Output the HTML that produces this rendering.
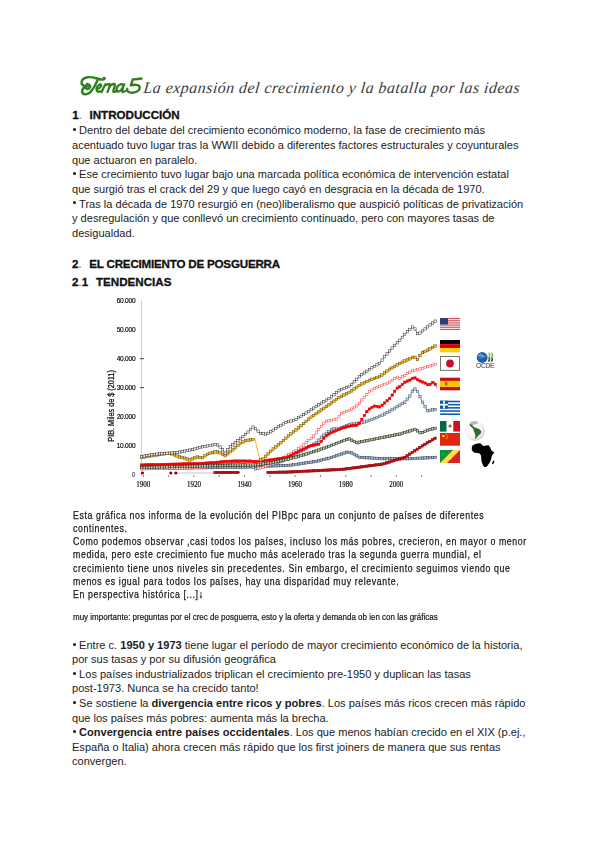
<!DOCTYPE html>
<html><head><meta charset="utf-8"><title>Tema 5</title><style>
*{margin:0;padding:0;box-sizing:border-box}
html,body{width:600px;height:848px;background:#fff;overflow:hidden}
body{position:relative;font-family:"Liberation Sans",sans-serif;color:#1c1c1c}
.l{position:absolute;white-space:pre;font-size:11.05px;line-height:14px;height:14px}
.p{position:absolute;white-space:pre;font-size:10.3px;letter-spacing:0.7px;line-height:13px;height:13px;color:#1a1a1a;-webkit-text-stroke:0.25px #1a1a1a;transform-origin:0 0;transform:scaleX(0.852)}
.h{position:absolute;white-space:pre;font-weight:bold;font-size:11.6px;line-height:14px;height:14px;color:#111;-webkit-text-stroke:0.3px #111}
b{font-weight:bold}
.bu{display:inline-block;width:7.1px;height:1px;position:relative}
.bu::before{content:"";position:absolute;left:0.6px;top:-5.1px;width:3px;height:3px;border-radius:50%;background:#111}
</style></head>
<body>
<svg style="position:absolute;left:0;top:0" width="600" height="120" viewBox="0 0 600 120"><g fill="none" stroke="#317f1f" stroke-width="2.4" stroke-linecap="round" stroke-linejoin="round"><path d="M84.5,86 C80,84.5 80.5,78.5 87.5,77.2 C93.5,76.3 99,80 103.2,79.6 C105,79.4 105.2,77.6 103.8,77.9"/><path d="M97.5,80.3 C95.3,85 93.3,89.8 89.5,92.8 C86.3,95.2 82.2,94.6 82.1,91.4 C82,88 86.2,85.6 90.2,86.6"/><path d="M87.3,83.8 C85.2,85.8 85.3,89.2 87.7,89.1 C90,89 90.8,86.2 89.2,84.6"/><g transform="translate(0,92) skewX(-12) translate(0,-92)"><path d="M96.3,89.2 C98.4,88.6 100.3,87.1 99.7,85.4 C99.1,83.8 96.6,84.4 95.9,87 C95.2,90 97.2,92.5 100.2,91.4"/><path d="M101.6,92 C102.4,89 103,86.4 103.6,84.4 M103.3,86.2 C104.2,84.8 105.4,84 107,84 C108.8,84 108.6,86.8 107.6,92 M108,88.2 C108.8,85.4 110.2,84 112,84 C113.9,84 113.6,86.9 113.1,89.4 C112.7,91.4 113.6,92.4 115.6,91.4"/><path d="M122.2,85.2 C120.2,83.4 117.1,84 116.1,87 C115.1,90 117.1,92.4 119.6,91 C121,90 122,87.2 122.6,84.4 C122.1,87.2 121.2,90.5 122.6,92 C123.6,92.4 124.6,91.6 125.2,91"/></g><path d="M132.6,79.4 C135.3,79.2 138.3,79 141.4,78.5 M132.9,79.6 C132.1,81.6 131.3,83.6 130.8,85.4 C134.2,84.2 139.6,84.5 139.7,87.6 C139.8,91.1 134,93.6 129.6,92.3 C127.6,91.7 126.6,90.1 127.3,88.8"/></g></svg>
<div style="position:absolute;left:143px;top:76px;white-space:pre;font-family:'Liberation Serif',serif;font-style:italic;font-size:16px;letter-spacing:0.45px;line-height:24px;color:#3c3c3c;transform:skewX(-6deg);transform-origin:0 17px">La expansión del crecimiento y la batalla por las ideas</div>
<div class="h" style="left:72.3px;top:107.68px;">1<span style='color:#aaa;-webkit-text-stroke:0'>.</span></div>
<div class="h" style="left:89.5px;top:107.68px;">INTRODUCCIÓN</div>
<div class="l" style="left:72px;top:123.17px;"><span class="bu"></span>Dentro del debate del crecimiento económico moderno, la fase de crecimiento más</div>
<div class="l" style="left:72px;top:137.85px;">acentuado tuvo lugar tras la WWII debido a diferentes factores estructurales y coyunturales</div>
<div class="l" style="left:72px;top:152.53px;">que actuaron en paralelo.</div>
<div class="l" style="left:72px;top:167.21px;"><span class="bu"></span>Ese crecimiento tuvo lugar bajo una marcada política económica de intervención estatal</div>
<div class="l" style="left:72px;top:181.89px;">que surgió tras el crack del 29 y que luego cayó en desgracia en la década de 1970.</div>
<div class="l" style="left:72px;top:196.57px;"><span class="bu"></span>Tras la década de 1970 resurgió en (neo)liberalismo que auspició políticas de privatización</div>
<div class="l" style="left:72px;top:211.25px;">y desregulación y que conllevó un crecimiento continuado, pero con mayores tasas de</div>
<div class="l" style="left:72px;top:225.93px;">desigualdad.</div>
<div class="h" style="left:72px;top:256.78px;">2<span style='color:#aaa;-webkit-text-stroke:0'>.</span></div>
<div class="h" style="left:89.3px;top:256.78px;letter-spacing:-0.2px">EL CRECIMIENTO DE POSGUERRA</div>
<div class="h" style="left:72px;top:274.98px;">2<span style='color:#aaa;-webkit-text-stroke:0'>.</span>1</div>
<div class="h" style="left:96px;top:274.98px;">TENDENCIAS</div>
<div class="p" style="left:73px;top:508.82px;">Esta gráfica nos informa de la evolución del PIBpc para un conjunto de países de diferentes</div>
<div class="p" style="left:73px;top:522.02px;">continentes.</div>
<div class="p" style="left:73px;top:535.22px;">Como podemos observar ,casi todos los países, incluso los más pobres, crecieron, en mayor o menor</div>
<div class="p" style="left:73px;top:548.42px;">medida, pero este crecimiento fue mucho más acelerado tras la segunda guerra mundial, el</div>
<div class="p" style="left:73px;top:561.62px;">crecimiento tiene unos niveles sin precedentes. Sin embargo, el crecimiento seguimos viendo que</div>
<div class="p" style="left:73px;top:574.82px;">menos es igual para todos los países, hay una disparidad muy relevante.</div>
<div class="p" style="left:73px;top:588.02px;">En perspectiva histórica [...]↓</div>
<div style="position:absolute;left:73px;top:611.82px;white-space:pre;font-size:8.6px;line-height:10px;color:#111;-webkit-text-stroke:0.2px #222;transform-origin:0 0;transform:scaleX(0.931)">muy importante: preguntas por el crec de posguerra, esto y la oferta y demanda ob ien con las gráficas</div>
<div class="l" style="left:72px;top:638.07px;"><span class="bu"></span>Entre c. <b>1950 y 1973</b> tiene lugar el período de mayor crecimiento económico de la historia,</div>
<div class="l" style="left:72px;top:652.07px;">por sus tasas y por su difusión geográfica</div>
<div class="l" style="left:72px;top:666.77px;"><span class="bu"></span>Los países industrializados triplican el crecimiento pre-1950 y duplican las tasas</div>
<div class="l" style="left:72px;top:681.47px;">post-1973. Nunca se ha crecido tanto!</div>
<div class="l" style="left:72px;top:695.97px;"><span class="bu"></span>Se sostiene la <b>divergencia entre ricos y pobres</b>. Los países más ricos crecen más rápido</div>
<div class="l" style="left:72px;top:710.67px;">que los países más pobres: aumenta más la brecha.</div>
<div class="l" style="left:72px;top:725.17px;"><span class="bu"></span><b>Convergencia entre países occidentales</b>. Los que menos habían crecido en el XIX (p.ej.,</div>
<div class="l" style="left:72px;top:739.87px;">España o Italia) ahora crecen más rápido que los first joiners de manera que sus rentas</div>
<div class="l" style="left:72px;top:754.37px;">convergen.</div>
<svg style="position:absolute;left:0;top:0;filter:blur(0.3px)" width="600" height="848" viewBox="0 0 600 848">
<line x1="141.5" y1="300.5" x2="141.5" y2="476" stroke="#c8c8c8" stroke-width="0.9"/>
<line x1="140" y1="358.7" x2="144" y2="358.7" stroke="#444" stroke-width="1"/>
<line x1="140" y1="387.6" x2="144" y2="387.6" stroke="#444" stroke-width="1"/>
<text x="135.3" y="303.2" text-anchor="end" font-family="Liberation Sans" font-size="6.6" letter-spacing="-0.25" fill="#000" stroke="#000" stroke-width="0.15">60.000</text>
<text x="135.3" y="332.1" text-anchor="end" font-family="Liberation Sans" font-size="6.6" letter-spacing="-0.25" fill="#000" stroke="#000" stroke-width="0.15">50.000</text>
<text x="135.3" y="361.0" text-anchor="end" font-family="Liberation Sans" font-size="6.6" letter-spacing="-0.25" fill="#000" stroke="#000" stroke-width="0.15">40.000</text>
<text x="135.3" y="389.9" text-anchor="end" font-family="Liberation Sans" font-size="6.6" letter-spacing="-0.25" fill="#000" stroke="#000" stroke-width="0.15">30.000</text>
<text x="135.3" y="419.3" text-anchor="end" font-family="Liberation Sans" font-size="6.6" letter-spacing="-0.25" fill="#000" stroke="#000" stroke-width="0.15">20.000</text>
<text x="135.3" y="448.3" text-anchor="end" font-family="Liberation Sans" font-size="6.6" letter-spacing="-0.25" fill="#000" stroke="#000" stroke-width="0.15">10.000</text>
<text x="135.3" y="477.4" text-anchor="end" font-family="Liberation Sans" font-size="6.6" fill="#222">0</text>
<line x1="143.3" y1="475.2" x2="143.3" y2="477" stroke="#555" stroke-width="0.8"/>
<line x1="168.6" y1="475.2" x2="168.6" y2="477" stroke="#555" stroke-width="0.8"/>
<line x1="193.9" y1="475.2" x2="193.9" y2="477" stroke="#555" stroke-width="0.8"/>
<line x1="219.2" y1="475.2" x2="219.2" y2="477" stroke="#555" stroke-width="0.8"/>
<line x1="244.5" y1="475.2" x2="244.5" y2="477" stroke="#555" stroke-width="0.8"/>
<line x1="269.8" y1="475.2" x2="269.8" y2="477" stroke="#555" stroke-width="0.8"/>
<line x1="295.1" y1="475.2" x2="295.1" y2="477" stroke="#555" stroke-width="0.8"/>
<line x1="320.4" y1="475.2" x2="320.4" y2="477" stroke="#555" stroke-width="0.8"/>
<line x1="345.7" y1="475.2" x2="345.7" y2="477" stroke="#555" stroke-width="0.8"/>
<line x1="371.0" y1="475.2" x2="371.0" y2="477" stroke="#555" stroke-width="0.8"/>
<line x1="396.3" y1="475.2" x2="396.3" y2="477" stroke="#555" stroke-width="0.8"/>
<line x1="421.6" y1="475.2" x2="421.6" y2="477" stroke="#555" stroke-width="0.8"/>
<text x="136.3" y="486.8" textLength="14" lengthAdjust="spacingAndGlyphs" font-family="Liberation Serif" font-size="7.9" fill="#111" stroke="#111" stroke-width="0.2">1900</text>
<text x="186.9" y="486.8" textLength="14" lengthAdjust="spacingAndGlyphs" font-family="Liberation Serif" font-size="7.9" fill="#111" stroke="#111" stroke-width="0.2">1920</text>
<text x="237.5" y="486.8" textLength="14" lengthAdjust="spacingAndGlyphs" font-family="Liberation Serif" font-size="7.9" fill="#111" stroke="#111" stroke-width="0.2">1940</text>
<text x="288.1" y="486.8" textLength="14" lengthAdjust="spacingAndGlyphs" font-family="Liberation Serif" font-size="7.9" fill="#111" stroke="#111" stroke-width="0.2">1960</text>
<text x="338.7" y="486.8" textLength="14" lengthAdjust="spacingAndGlyphs" font-family="Liberation Serif" font-size="7.9" fill="#111" stroke="#111" stroke-width="0.2">1980</text>
<text x="389.3" y="486.8" textLength="14" lengthAdjust="spacingAndGlyphs" font-family="Liberation Serif" font-size="7.9" fill="#111" stroke="#111" stroke-width="0.2">2000</text>
<text transform="translate(113.6,405.9) rotate(-90) scale(0.89,1)" text-anchor="middle" font-family="Liberation Sans" font-size="8.2" fill="#111" stroke="#111" stroke-width="0.25">PIB. Miles de $ (2011)</text>
<polyline points="176,473 215,473" stroke="#bbb" stroke-width="0.8" fill="none"/>
<polyline points="141.7,468.5 180.0,468.0 220.0,467.5 250.0,467.0 260.0,466.0 270.0,466.0 290.0,465.3 316.7,461.3 330.0,458.0 347.3,452.0 352.0,453.0 359.3,457.3 383.3,458.7 410.0,458.7 436.7,457.3" fill="none" stroke="#3d4a60" stroke-width="0.7" stroke-linejoin="round"/><g fill="#a8bcd8" stroke="#3d4a60" stroke-width="0.55"><rect x="140.50" y="467.30" width="2.4" height="2.4"/><rect x="143.03" y="467.27" width="2.4" height="2.4"/><rect x="145.56" y="467.23" width="2.4" height="2.4"/><rect x="148.09" y="467.20" width="2.4" height="2.4"/><rect x="150.62" y="467.17" width="2.4" height="2.4"/><rect x="153.15" y="467.13" width="2.4" height="2.4"/><rect x="155.68" y="467.10" width="2.4" height="2.4"/><rect x="158.21" y="467.07" width="2.4" height="2.4"/><rect x="160.74" y="467.04" width="2.4" height="2.4"/><rect x="163.27" y="467.00" width="2.4" height="2.4"/><rect x="165.80" y="466.97" width="2.4" height="2.4"/><rect x="168.33" y="466.94" width="2.4" height="2.4"/><rect x="170.86" y="466.90" width="2.4" height="2.4"/><rect x="173.39" y="466.87" width="2.4" height="2.4"/><rect x="175.92" y="466.84" width="2.4" height="2.4"/><rect x="178.45" y="466.80" width="2.4" height="2.4"/><rect x="180.98" y="466.77" width="2.4" height="2.4"/><rect x="183.51" y="466.74" width="2.4" height="2.4"/><rect x="186.04" y="466.71" width="2.4" height="2.4"/><rect x="188.57" y="466.68" width="2.4" height="2.4"/><rect x="191.10" y="466.65" width="2.4" height="2.4"/><rect x="193.63" y="466.61" width="2.4" height="2.4"/><rect x="196.16" y="466.58" width="2.4" height="2.4"/><rect x="198.69" y="466.55" width="2.4" height="2.4"/><rect x="201.22" y="466.52" width="2.4" height="2.4"/><rect x="203.75" y="466.49" width="2.4" height="2.4"/><rect x="206.28" y="466.46" width="2.4" height="2.4"/><rect x="208.81" y="466.42" width="2.4" height="2.4"/><rect x="211.34" y="466.39" width="2.4" height="2.4"/><rect x="213.87" y="466.36" width="2.4" height="2.4"/><rect x="216.40" y="466.33" width="2.4" height="2.4"/><rect x="218.93" y="466.30" width="2.4" height="2.4"/><rect x="221.46" y="466.26" width="2.4" height="2.4"/><rect x="223.99" y="466.21" width="2.4" height="2.4"/><rect x="226.52" y="466.17" width="2.4" height="2.4"/><rect x="229.05" y="466.13" width="2.4" height="2.4"/><rect x="231.58" y="466.09" width="2.4" height="2.4"/><rect x="234.11" y="466.04" width="2.4" height="2.4"/><rect x="236.64" y="466.00" width="2.4" height="2.4"/><rect x="239.17" y="465.96" width="2.4" height="2.4"/><rect x="241.70" y="465.92" width="2.4" height="2.4"/><rect x="244.23" y="465.88" width="2.4" height="2.4"/><rect x="246.76" y="465.83" width="2.4" height="2.4"/><rect x="249.29" y="465.75" width="2.4" height="2.4"/><rect x="251.82" y="465.50" width="2.4" height="2.4"/><rect x="254.35" y="465.25" width="2.4" height="2.4"/><rect x="256.88" y="464.99" width="2.4" height="2.4"/><rect x="259.41" y="464.80" width="2.4" height="2.4"/><rect x="261.94" y="464.80" width="2.4" height="2.4"/><rect x="264.47" y="464.80" width="2.4" height="2.4"/><rect x="267.00" y="464.80" width="2.4" height="2.4"/><rect x="269.53" y="464.77" width="2.4" height="2.4"/><rect x="272.06" y="464.69" width="2.4" height="2.4"/><rect x="274.59" y="464.60" width="2.4" height="2.4"/><rect x="277.12" y="464.51" width="2.4" height="2.4"/><rect x="279.65" y="464.42" width="2.4" height="2.4"/><rect x="282.18" y="464.33" width="2.4" height="2.4"/><rect x="284.71" y="464.24" width="2.4" height="2.4"/><rect x="287.24" y="464.15" width="2.4" height="2.4"/><rect x="289.77" y="463.95" width="2.4" height="2.4"/><rect x="292.30" y="463.58" width="2.4" height="2.4"/><rect x="294.83" y="463.20" width="2.4" height="2.4"/><rect x="297.36" y="462.82" width="2.4" height="2.4"/><rect x="299.89" y="462.44" width="2.4" height="2.4"/><rect x="302.42" y="462.06" width="2.4" height="2.4"/><rect x="304.95" y="461.68" width="2.4" height="2.4"/><rect x="307.48" y="461.30" width="2.4" height="2.4"/><rect x="310.01" y="460.92" width="2.4" height="2.4"/><rect x="312.54" y="460.54" width="2.4" height="2.4"/><rect x="315.07" y="460.16" width="2.4" height="2.4"/><rect x="317.60" y="459.58" width="2.4" height="2.4"/><rect x="320.13" y="458.95" width="2.4" height="2.4"/><rect x="322.66" y="458.32" width="2.4" height="2.4"/><rect x="325.19" y="457.70" width="2.4" height="2.4"/><rect x="327.72" y="457.07" width="2.4" height="2.4"/><rect x="330.25" y="456.30" width="2.4" height="2.4"/><rect x="332.78" y="455.42" width="2.4" height="2.4"/><rect x="335.31" y="454.54" width="2.4" height="2.4"/><rect x="337.84" y="453.66" width="2.4" height="2.4"/><rect x="340.37" y="452.79" width="2.4" height="2.4"/><rect x="342.90" y="451.91" width="2.4" height="2.4"/><rect x="345.43" y="451.03" width="2.4" height="2.4"/><rect x="347.96" y="451.20" width="2.4" height="2.4"/><rect x="350.49" y="451.73" width="2.4" height="2.4"/><rect x="353.02" y="453.11" width="2.4" height="2.4"/><rect x="355.55" y="454.60" width="2.4" height="2.4"/><rect x="358.08" y="456.09" width="2.4" height="2.4"/><rect x="360.61" y="456.25" width="2.4" height="2.4"/><rect x="363.14" y="456.39" width="2.4" height="2.4"/><rect x="365.67" y="456.54" width="2.4" height="2.4"/><rect x="368.20" y="456.69" width="2.4" height="2.4"/><rect x="370.73" y="456.84" width="2.4" height="2.4"/><rect x="373.26" y="456.98" width="2.4" height="2.4"/><rect x="375.79" y="457.13" width="2.4" height="2.4"/><rect x="378.32" y="457.28" width="2.4" height="2.4"/><rect x="380.85" y="457.43" width="2.4" height="2.4"/><rect x="383.38" y="457.50" width="2.4" height="2.4"/><rect x="385.91" y="457.50" width="2.4" height="2.4"/><rect x="388.44" y="457.50" width="2.4" height="2.4"/><rect x="390.97" y="457.50" width="2.4" height="2.4"/><rect x="393.50" y="457.50" width="2.4" height="2.4"/><rect x="396.03" y="457.50" width="2.4" height="2.4"/><rect x="398.56" y="457.50" width="2.4" height="2.4"/><rect x="401.09" y="457.50" width="2.4" height="2.4"/><rect x="403.62" y="457.50" width="2.4" height="2.4"/><rect x="406.15" y="457.50" width="2.4" height="2.4"/><rect x="408.68" y="457.50" width="2.4" height="2.4"/><rect x="411.21" y="457.37" width="2.4" height="2.4"/><rect x="413.74" y="457.24" width="2.4" height="2.4"/><rect x="416.27" y="457.11" width="2.4" height="2.4"/><rect x="418.80" y="456.98" width="2.4" height="2.4"/><rect x="421.33" y="456.84" width="2.4" height="2.4"/><rect x="423.86" y="456.71" width="2.4" height="2.4"/><rect x="426.39" y="456.58" width="2.4" height="2.4"/><rect x="428.92" y="456.45" width="2.4" height="2.4"/><rect x="431.45" y="456.31" width="2.4" height="2.4"/><rect x="433.98" y="456.18" width="2.4" height="2.4"/></g>
<polyline points="141.7,466.5 160.0,466.0 180.0,465.5 200.0,465.0 220.0,464.5 240.0,464.0 250.0,466.0 256.0,469.0 262.0,467.0 270.0,465.0 280.0,462.0 290.0,458.0 300.0,452.0 310.0,446.0 316.7,442.7 321.7,436.7 333.3,428.3 338.0,429.3 350.0,424.2 363.3,422.5 375.0,418.3 383.3,414.7 391.7,410.0 400.0,405.0 405.0,402.0 410.0,396.0 414.0,388.0 418.0,392.0 422.0,401.3 427.3,410.7 436.7,409.3" fill="none" stroke="#4a5a78" stroke-width="0.7" stroke-linejoin="round"/><g fill="#c9d8ec" stroke="#4a5a78" stroke-width="0.55"><rect x="140.50" y="465.30" width="2.4" height="2.4"/><rect x="143.03" y="465.23" width="2.4" height="2.4"/><rect x="145.56" y="465.16" width="2.4" height="2.4"/><rect x="148.09" y="465.09" width="2.4" height="2.4"/><rect x="150.62" y="465.02" width="2.4" height="2.4"/><rect x="153.15" y="464.95" width="2.4" height="2.4"/><rect x="155.68" y="464.89" width="2.4" height="2.4"/><rect x="158.21" y="464.82" width="2.4" height="2.4"/><rect x="160.74" y="464.75" width="2.4" height="2.4"/><rect x="163.27" y="464.69" width="2.4" height="2.4"/><rect x="165.80" y="464.62" width="2.4" height="2.4"/><rect x="168.33" y="464.56" width="2.4" height="2.4"/><rect x="170.86" y="464.50" width="2.4" height="2.4"/><rect x="173.39" y="464.44" width="2.4" height="2.4"/><rect x="175.92" y="464.37" width="2.4" height="2.4"/><rect x="178.45" y="464.31" width="2.4" height="2.4"/><rect x="180.98" y="464.25" width="2.4" height="2.4"/><rect x="183.51" y="464.18" width="2.4" height="2.4"/><rect x="186.04" y="464.12" width="2.4" height="2.4"/><rect x="188.57" y="464.06" width="2.4" height="2.4"/><rect x="191.10" y="463.99" width="2.4" height="2.4"/><rect x="193.63" y="463.93" width="2.4" height="2.4"/><rect x="196.16" y="463.87" width="2.4" height="2.4"/><rect x="198.69" y="463.80" width="2.4" height="2.4"/><rect x="201.22" y="463.74" width="2.4" height="2.4"/><rect x="203.75" y="463.68" width="2.4" height="2.4"/><rect x="206.28" y="463.61" width="2.4" height="2.4"/><rect x="208.81" y="463.55" width="2.4" height="2.4"/><rect x="211.34" y="463.49" width="2.4" height="2.4"/><rect x="213.87" y="463.42" width="2.4" height="2.4"/><rect x="216.40" y="463.36" width="2.4" height="2.4"/><rect x="218.93" y="463.30" width="2.4" height="2.4"/><rect x="221.46" y="463.23" width="2.4" height="2.4"/><rect x="223.99" y="463.17" width="2.4" height="2.4"/><rect x="226.52" y="463.11" width="2.4" height="2.4"/><rect x="229.05" y="463.04" width="2.4" height="2.4"/><rect x="231.58" y="462.98" width="2.4" height="2.4"/><rect x="234.11" y="462.92" width="2.4" height="2.4"/><rect x="236.64" y="462.85" width="2.4" height="2.4"/><rect x="239.17" y="462.87" width="2.4" height="2.4"/><rect x="241.70" y="463.38" width="2.4" height="2.4"/><rect x="244.23" y="463.89" width="2.4" height="2.4"/><rect x="246.76" y="464.39" width="2.4" height="2.4"/><rect x="249.29" y="465.05" width="2.4" height="2.4"/><rect x="251.82" y="466.31" width="2.4" height="2.4"/><rect x="254.35" y="467.58" width="2.4" height="2.4"/><rect x="256.88" y="467.11" width="2.4" height="2.4"/><rect x="259.41" y="466.26" width="2.4" height="2.4"/><rect x="261.94" y="465.52" width="2.4" height="2.4"/><rect x="264.47" y="464.88" width="2.4" height="2.4"/><rect x="267.00" y="464.25" width="2.4" height="2.4"/><rect x="269.53" y="463.58" width="2.4" height="2.4"/><rect x="272.06" y="462.82" width="2.4" height="2.4"/><rect x="274.59" y="462.06" width="2.4" height="2.4"/><rect x="277.12" y="461.30" width="2.4" height="2.4"/><rect x="279.65" y="460.46" width="2.4" height="2.4"/><rect x="282.18" y="459.45" width="2.4" height="2.4"/><rect x="284.71" y="458.44" width="2.4" height="2.4"/><rect x="287.24" y="457.42" width="2.4" height="2.4"/><rect x="289.77" y="456.22" width="2.4" height="2.4"/><rect x="292.30" y="454.70" width="2.4" height="2.4"/><rect x="294.83" y="453.18" width="2.4" height="2.4"/><rect x="297.36" y="451.66" width="2.4" height="2.4"/><rect x="299.89" y="450.15" width="2.4" height="2.4"/><rect x="302.42" y="448.63" width="2.4" height="2.4"/><rect x="304.95" y="447.11" width="2.4" height="2.4"/><rect x="307.48" y="445.59" width="2.4" height="2.4"/><rect x="310.01" y="444.20" width="2.4" height="2.4"/><rect x="312.54" y="442.96" width="2.4" height="2.4"/><rect x="315.07" y="441.71" width="2.4" height="2.4"/><rect x="317.60" y="438.98" width="2.4" height="2.4"/><rect x="320.13" y="435.94" width="2.4" height="2.4"/><rect x="322.66" y="433.94" width="2.4" height="2.4"/><rect x="325.19" y="432.10" width="2.4" height="2.4"/><rect x="327.72" y="430.27" width="2.4" height="2.4"/><rect x="330.25" y="428.44" width="2.4" height="2.4"/><rect x="332.78" y="427.24" width="2.4" height="2.4"/><rect x="335.31" y="427.78" width="2.4" height="2.4"/><rect x="337.84" y="427.66" width="2.4" height="2.4"/><rect x="340.37" y="426.58" width="2.4" height="2.4"/><rect x="342.90" y="425.51" width="2.4" height="2.4"/><rect x="345.43" y="424.43" width="2.4" height="2.4"/><rect x="347.96" y="423.36" width="2.4" height="2.4"/><rect x="350.49" y="422.78" width="2.4" height="2.4"/><rect x="353.02" y="422.46" width="2.4" height="2.4"/><rect x="355.55" y="422.14" width="2.4" height="2.4"/><rect x="358.08" y="421.81" width="2.4" height="2.4"/><rect x="360.61" y="421.49" width="2.4" height="2.4"/><rect x="363.14" y="420.93" width="2.4" height="2.4"/><rect x="365.67" y="420.02" width="2.4" height="2.4"/><rect x="368.20" y="419.11" width="2.4" height="2.4"/><rect x="370.73" y="418.20" width="2.4" height="2.4"/><rect x="373.26" y="417.29" width="2.4" height="2.4"/><rect x="375.79" y="416.24" width="2.4" height="2.4"/><rect x="378.32" y="415.14" width="2.4" height="2.4"/><rect x="380.85" y="414.04" width="2.4" height="2.4"/><rect x="383.38" y="412.78" width="2.4" height="2.4"/><rect x="385.91" y="411.37" width="2.4" height="2.4"/><rect x="388.44" y="409.95" width="2.4" height="2.4"/><rect x="390.97" y="408.52" width="2.4" height="2.4"/><rect x="393.50" y="406.99" width="2.4" height="2.4"/><rect x="396.03" y="405.47" width="2.4" height="2.4"/><rect x="398.56" y="403.94" width="2.4" height="2.4"/><rect x="401.09" y="402.43" width="2.4" height="2.4"/><rect x="403.62" y="400.91" width="2.4" height="2.4"/><rect x="406.15" y="397.98" width="2.4" height="2.4"/><rect x="408.68" y="394.94" width="2.4" height="2.4"/><rect x="411.21" y="389.98" width="2.4" height="2.4"/><rect x="413.74" y="387.74" width="2.4" height="2.4"/><rect x="416.27" y="390.27" width="2.4" height="2.4"/><rect x="418.80" y="395.45" width="2.4" height="2.4"/><rect x="421.33" y="401.04" width="2.4" height="2.4"/><rect x="423.86" y="405.53" width="2.4" height="2.4"/><rect x="426.39" y="409.46" width="2.4" height="2.4"/><rect x="428.92" y="409.08" width="2.4" height="2.4"/><rect x="431.45" y="408.70" width="2.4" height="2.4"/><rect x="433.98" y="408.33" width="2.4" height="2.4"/></g>
<polyline points="141.7,469.0 160.0,468.5 180.0,468.0 200.0,467.5 220.0,466.0 240.0,463.5 250.0,460.5 255.0,462.0 257.0,468.3 262.0,468.0 270.0,464.0 280.0,459.0 290.0,454.0 300.0,448.0 313.3,436.7 325.0,421.7 337.0,419.0 341.7,413.3 350.0,410.0 358.3,405.0 360.0,402.0 370.0,391.0 380.0,386.0 388.7,382.7 396.7,377.3 400.0,378.3 410.0,372.0 412.7,370.7 420.0,369.0 436.7,364.0" fill="none" stroke="#ff2020" stroke-width="0.5" stroke-linejoin="round"/><g fill="#ffffff" stroke="#ff2020" stroke-width="0.42"><rect x="140.60" y="467.90" width="2.2" height="2.2"/><rect x="143.13" y="467.83" width="2.2" height="2.2"/><rect x="145.66" y="467.76" width="2.2" height="2.2"/><rect x="148.19" y="467.69" width="2.2" height="2.2"/><rect x="150.72" y="467.62" width="2.2" height="2.2"/><rect x="153.25" y="467.55" width="2.2" height="2.2"/><rect x="155.78" y="467.49" width="2.2" height="2.2"/><rect x="158.31" y="467.42" width="2.2" height="2.2"/><rect x="160.84" y="467.35" width="2.2" height="2.2"/><rect x="163.37" y="467.29" width="2.2" height="2.2"/><rect x="165.90" y="467.22" width="2.2" height="2.2"/><rect x="168.43" y="467.16" width="2.2" height="2.2"/><rect x="170.96" y="467.10" width="2.2" height="2.2"/><rect x="173.49" y="467.04" width="2.2" height="2.2"/><rect x="176.02" y="466.97" width="2.2" height="2.2"/><rect x="178.55" y="466.91" width="2.2" height="2.2"/><rect x="181.08" y="466.85" width="2.2" height="2.2"/><rect x="183.61" y="466.78" width="2.2" height="2.2"/><rect x="186.14" y="466.72" width="2.2" height="2.2"/><rect x="188.67" y="466.66" width="2.2" height="2.2"/><rect x="191.20" y="466.59" width="2.2" height="2.2"/><rect x="193.73" y="466.53" width="2.2" height="2.2"/><rect x="196.26" y="466.47" width="2.2" height="2.2"/><rect x="198.79" y="466.40" width="2.2" height="2.2"/><rect x="201.32" y="466.22" width="2.2" height="2.2"/><rect x="203.85" y="466.03" width="2.2" height="2.2"/><rect x="206.38" y="465.84" width="2.2" height="2.2"/><rect x="208.91" y="465.65" width="2.2" height="2.2"/><rect x="211.44" y="465.46" width="2.2" height="2.2"/><rect x="213.97" y="465.27" width="2.2" height="2.2"/><rect x="216.50" y="465.08" width="2.2" height="2.2"/><rect x="219.03" y="464.88" width="2.2" height="2.2"/><rect x="221.56" y="464.57" width="2.2" height="2.2"/><rect x="224.09" y="464.25" width="2.2" height="2.2"/><rect x="226.62" y="463.93" width="2.2" height="2.2"/><rect x="229.15" y="463.62" width="2.2" height="2.2"/><rect x="231.68" y="463.30" width="2.2" height="2.2"/><rect x="234.21" y="462.99" width="2.2" height="2.2"/><rect x="236.74" y="462.67" width="2.2" height="2.2"/><rect x="239.27" y="462.29" width="2.2" height="2.2"/><rect x="241.80" y="461.53" width="2.2" height="2.2"/><rect x="244.33" y="460.77" width="2.2" height="2.2"/><rect x="246.86" y="460.01" width="2.2" height="2.2"/><rect x="249.39" y="459.55" width="2.2" height="2.2"/><rect x="251.92" y="460.31" width="2.2" height="2.2"/><rect x="254.45" y="462.63" width="2.2" height="2.2"/><rect x="256.98" y="467.14" width="2.2" height="2.2"/><rect x="259.51" y="466.98" width="2.2" height="2.2"/><rect x="262.04" y="466.33" width="2.2" height="2.2"/><rect x="264.57" y="465.06" width="2.2" height="2.2"/><rect x="267.10" y="463.80" width="2.2" height="2.2"/><rect x="269.63" y="462.54" width="2.2" height="2.2"/><rect x="272.16" y="461.27" width="2.2" height="2.2"/><rect x="274.69" y="460.01" width="2.2" height="2.2"/><rect x="277.22" y="458.74" width="2.2" height="2.2"/><rect x="279.75" y="457.48" width="2.2" height="2.2"/><rect x="282.28" y="456.21" width="2.2" height="2.2"/><rect x="284.81" y="454.95" width="2.2" height="2.2"/><rect x="287.34" y="453.68" width="2.2" height="2.2"/><rect x="289.87" y="452.32" width="2.2" height="2.2"/><rect x="292.40" y="450.80" width="2.2" height="2.2"/><rect x="294.93" y="449.28" width="2.2" height="2.2"/><rect x="297.46" y="447.76" width="2.2" height="2.2"/><rect x="299.99" y="445.97" width="2.2" height="2.2"/><rect x="302.52" y="443.82" width="2.2" height="2.2"/><rect x="305.05" y="441.67" width="2.2" height="2.2"/><rect x="307.58" y="439.53" width="2.2" height="2.2"/><rect x="310.11" y="437.38" width="2.2" height="2.2"/><rect x="312.64" y="435.04" width="2.2" height="2.2"/><rect x="315.17" y="431.79" width="2.2" height="2.2"/><rect x="317.70" y="428.55" width="2.2" height="2.2"/><rect x="320.23" y="425.31" width="2.2" height="2.2"/><rect x="322.76" y="422.06" width="2.2" height="2.2"/><rect x="325.29" y="420.29" width="2.2" height="2.2"/><rect x="327.82" y="419.72" width="2.2" height="2.2"/><rect x="330.35" y="419.15" width="2.2" height="2.2"/><rect x="332.88" y="418.58" width="2.2" height="2.2"/><rect x="335.41" y="418.01" width="2.2" height="2.2"/><rect x="337.94" y="415.43" width="2.2" height="2.2"/><rect x="340.47" y="412.36" width="2.2" height="2.2"/><rect x="343.00" y="411.25" width="2.2" height="2.2"/><rect x="345.53" y="410.24" width="2.2" height="2.2"/><rect x="348.06" y="409.23" width="2.2" height="2.2"/><rect x="350.59" y="407.88" width="2.2" height="2.2"/><rect x="353.12" y="406.36" width="2.2" height="2.2"/><rect x="355.65" y="404.83" width="2.2" height="2.2"/><rect x="358.18" y="402.17" width="2.2" height="2.2"/><rect x="360.71" y="398.91" width="2.2" height="2.2"/><rect x="363.24" y="396.13" width="2.2" height="2.2"/><rect x="365.77" y="393.34" width="2.2" height="2.2"/><rect x="368.30" y="390.56" width="2.2" height="2.2"/><rect x="370.83" y="388.94" width="2.2" height="2.2"/><rect x="373.36" y="387.67" width="2.2" height="2.2"/><rect x="375.89" y="386.41" width="2.2" height="2.2"/><rect x="378.42" y="385.14" width="2.2" height="2.2"/><rect x="380.95" y="384.12" width="2.2" height="2.2"/><rect x="383.48" y="383.16" width="2.2" height="2.2"/><rect x="386.01" y="382.20" width="2.2" height="2.2"/><rect x="388.54" y="380.97" width="2.2" height="2.2"/><rect x="391.07" y="379.26" width="2.2" height="2.2"/><rect x="393.60" y="377.55" width="2.2" height="2.2"/><rect x="396.13" y="376.36" width="2.2" height="2.2"/><rect x="398.66" y="377.13" width="2.2" height="2.2"/><rect x="401.19" y="375.76" width="2.2" height="2.2"/><rect x="403.72" y="374.16" width="2.2" height="2.2"/><rect x="406.25" y="372.57" width="2.2" height="2.2"/><rect x="408.78" y="370.98" width="2.2" height="2.2"/><rect x="411.31" y="369.74" width="2.2" height="2.2"/><rect x="413.84" y="369.08" width="2.2" height="2.2"/><rect x="416.37" y="368.49" width="2.2" height="2.2"/><rect x="418.90" y="367.90" width="2.2" height="2.2"/><rect x="421.43" y="367.14" width="2.2" height="2.2"/><rect x="423.96" y="366.39" width="2.2" height="2.2"/><rect x="426.49" y="365.63" width="2.2" height="2.2"/><rect x="429.02" y="364.87" width="2.2" height="2.2"/><rect x="431.55" y="364.11" width="2.2" height="2.2"/><rect x="434.08" y="363.36" width="2.2" height="2.2"/></g>
<polyline points="141.7,465.0 160.0,464.5 180.0,464.0 200.0,463.5 215.0,462.5 225.0,461.5 235.0,461.0 245.0,461.0 255.0,461.7 260.0,461.0 270.0,460.0 286.7,457.5 300.0,450.7 310.0,446.0 319.3,444.0 325.0,436.7 330.0,433.3 341.7,428.3 350.0,426.0 358.3,425.0 362.0,419.0 368.0,410.0 374.0,406.0 380.0,407.0 390.0,398.3 396.7,388.3 400.0,386.7 405.0,382.0 410.0,380.0 414.0,377.3 418.0,380.0 420.7,381.3 425.0,383.0 428.7,385.3 432.0,383.0 434.0,381.3 436.7,388.0" fill="none" stroke="#ee0000" stroke-width="0.7" stroke-linejoin="round"/><g fill="#ee0000" stroke="#ee0000" stroke-width="0.55"><rect x="140.55" y="463.85" width="2.3" height="2.3"/><rect x="143.08" y="463.78" width="2.3" height="2.3"/><rect x="145.61" y="463.71" width="2.3" height="2.3"/><rect x="148.14" y="463.64" width="2.3" height="2.3"/><rect x="150.67" y="463.57" width="2.3" height="2.3"/><rect x="153.20" y="463.50" width="2.3" height="2.3"/><rect x="155.73" y="463.44" width="2.3" height="2.3"/><rect x="158.26" y="463.37" width="2.3" height="2.3"/><rect x="160.79" y="463.30" width="2.3" height="2.3"/><rect x="163.32" y="463.24" width="2.3" height="2.3"/><rect x="165.85" y="463.18" width="2.3" height="2.3"/><rect x="168.38" y="463.11" width="2.3" height="2.3"/><rect x="170.91" y="463.05" width="2.3" height="2.3"/><rect x="173.44" y="462.99" width="2.3" height="2.3"/><rect x="175.97" y="462.92" width="2.3" height="2.3"/><rect x="178.50" y="462.86" width="2.3" height="2.3"/><rect x="181.03" y="462.80" width="2.3" height="2.3"/><rect x="183.56" y="462.73" width="2.3" height="2.3"/><rect x="186.09" y="462.67" width="2.3" height="2.3"/><rect x="188.62" y="462.61" width="2.3" height="2.3"/><rect x="191.15" y="462.54" width="2.3" height="2.3"/><rect x="193.68" y="462.48" width="2.3" height="2.3"/><rect x="196.21" y="462.42" width="2.3" height="2.3"/><rect x="198.74" y="462.35" width="2.3" height="2.3"/><rect x="201.27" y="462.19" width="2.3" height="2.3"/><rect x="203.80" y="462.02" width="2.3" height="2.3"/><rect x="206.33" y="461.85" width="2.3" height="2.3"/><rect x="208.86" y="461.68" width="2.3" height="2.3"/><rect x="211.39" y="461.51" width="2.3" height="2.3"/><rect x="213.92" y="461.34" width="2.3" height="2.3"/><rect x="216.45" y="461.09" width="2.3" height="2.3"/><rect x="218.98" y="460.84" width="2.3" height="2.3"/><rect x="221.51" y="460.58" width="2.3" height="2.3"/><rect x="224.04" y="460.34" width="2.3" height="2.3"/><rect x="226.57" y="460.21" width="2.3" height="2.3"/><rect x="229.10" y="460.09" width="2.3" height="2.3"/><rect x="231.63" y="459.96" width="2.3" height="2.3"/><rect x="234.16" y="459.85" width="2.3" height="2.3"/><rect x="236.69" y="459.85" width="2.3" height="2.3"/><rect x="239.22" y="459.85" width="2.3" height="2.3"/><rect x="241.75" y="459.85" width="2.3" height="2.3"/><rect x="244.28" y="459.88" width="2.3" height="2.3"/><rect x="246.81" y="460.06" width="2.3" height="2.3"/><rect x="249.34" y="460.23" width="2.3" height="2.3"/><rect x="251.87" y="460.41" width="2.3" height="2.3"/><rect x="254.40" y="460.47" width="2.3" height="2.3"/><rect x="256.93" y="460.12" width="2.3" height="2.3"/><rect x="259.46" y="459.79" width="2.3" height="2.3"/><rect x="261.99" y="459.54" width="2.3" height="2.3"/><rect x="264.52" y="459.28" width="2.3" height="2.3"/><rect x="267.05" y="459.03" width="2.3" height="2.3"/><rect x="269.58" y="458.74" width="2.3" height="2.3"/><rect x="272.11" y="458.36" width="2.3" height="2.3"/><rect x="274.64" y="457.98" width="2.3" height="2.3"/><rect x="277.17" y="457.60" width="2.3" height="2.3"/><rect x="279.70" y="457.23" width="2.3" height="2.3"/><rect x="282.23" y="456.85" width="2.3" height="2.3"/><rect x="284.76" y="456.47" width="2.3" height="2.3"/><rect x="287.29" y="455.46" width="2.3" height="2.3"/><rect x="289.82" y="454.17" width="2.3" height="2.3"/><rect x="292.35" y="452.87" width="2.3" height="2.3"/><rect x="294.88" y="451.58" width="2.3" height="2.3"/><rect x="297.41" y="450.29" width="2.3" height="2.3"/><rect x="299.94" y="449.04" width="2.3" height="2.3"/><rect x="302.47" y="447.85" width="2.3" height="2.3"/><rect x="305.00" y="446.66" width="2.3" height="2.3"/><rect x="307.53" y="445.47" width="2.3" height="2.3"/><rect x="310.06" y="444.59" width="2.3" height="2.3"/><rect x="312.59" y="444.05" width="2.3" height="2.3"/><rect x="315.12" y="443.50" width="2.3" height="2.3"/><rect x="317.65" y="442.96" width="2.3" height="2.3"/><rect x="320.18" y="440.25" width="2.3" height="2.3"/><rect x="322.71" y="437.01" width="2.3" height="2.3"/><rect x="325.24" y="434.60" width="2.3" height="2.3"/><rect x="327.77" y="432.88" width="2.3" height="2.3"/><rect x="330.30" y="431.53" width="2.3" height="2.3"/><rect x="332.83" y="430.45" width="2.3" height="2.3"/><rect x="335.36" y="429.37" width="2.3" height="2.3"/><rect x="337.89" y="428.29" width="2.3" height="2.3"/><rect x="340.42" y="427.21" width="2.3" height="2.3"/><rect x="342.95" y="426.48" width="2.3" height="2.3"/><rect x="345.48" y="425.78" width="2.3" height="2.3"/><rect x="348.01" y="425.08" width="2.3" height="2.3"/><rect x="350.54" y="424.65" width="2.3" height="2.3"/><rect x="353.07" y="424.34" width="2.3" height="2.3"/><rect x="355.60" y="424.04" width="2.3" height="2.3"/><rect x="358.13" y="422.26" width="2.3" height="2.3"/><rect x="360.66" y="418.16" width="2.3" height="2.3"/><rect x="363.19" y="414.34" width="2.3" height="2.3"/><rect x="365.72" y="410.55" width="2.3" height="2.3"/><rect x="368.25" y="407.92" width="2.3" height="2.3"/><rect x="370.78" y="406.23" width="2.3" height="2.3"/><rect x="373.31" y="404.93" width="2.3" height="2.3"/><rect x="375.84" y="405.35" width="2.3" height="2.3"/><rect x="378.37" y="405.77" width="2.3" height="2.3"/><rect x="380.90" y="404.07" width="2.3" height="2.3"/><rect x="383.43" y="401.87" width="2.3" height="2.3"/><rect x="385.96" y="399.66" width="2.3" height="2.3"/><rect x="388.49" y="397.46" width="2.3" height="2.3"/><rect x="391.02" y="393.91" width="2.3" height="2.3"/><rect x="393.55" y="390.14" width="2.3" height="2.3"/><rect x="396.08" y="386.89" width="2.3" height="2.3"/><rect x="398.61" y="385.67" width="2.3" height="2.3"/><rect x="401.14" y="383.40" width="2.3" height="2.3"/><rect x="403.67" y="381.02" width="2.3" height="2.3"/><rect x="406.20" y="379.91" width="2.3" height="2.3"/><rect x="408.73" y="378.90" width="2.3" height="2.3"/><rect x="411.26" y="377.22" width="2.3" height="2.3"/><rect x="413.79" y="376.78" width="2.3" height="2.3"/><rect x="416.32" y="378.49" width="2.3" height="2.3"/><rect x="418.85" y="379.81" width="2.3" height="2.3"/><rect x="421.38" y="380.87" width="2.3" height="2.3"/><rect x="423.91" y="381.89" width="2.3" height="2.3"/><rect x="426.44" y="383.46" width="2.3" height="2.3"/><rect x="428.97" y="383.16" width="2.3" height="2.3"/><rect x="431.50" y="381.30" width="2.3" height="2.3"/><rect x="434.03" y="383.08" width="2.3" height="2.3"/></g>
<polyline points="141.7,467.5 160.0,467.0 180.0,466.5 200.0,466.0 220.0,465.5 240.0,465.0 255.0,465.0 270.0,463.0 290.0,458.7 300.0,456.0 316.7,450.7 330.0,446.0 340.0,442.0 348.7,438.7 356.7,442.7 370.0,440.0 383.3,437.3 400.0,434.0 415.3,429.3 420.7,433.3 428.0,430.0 436.7,428.0" fill="none" stroke="#2a2a2a" stroke-width="0.7" stroke-linejoin="round"/><g fill="#b7d6a4" stroke="#2a2a2a" stroke-width="0.55"><rect x="140.50" y="466.30" width="2.4" height="2.4"/><rect x="143.03" y="466.23" width="2.4" height="2.4"/><rect x="145.56" y="466.16" width="2.4" height="2.4"/><rect x="148.09" y="466.09" width="2.4" height="2.4"/><rect x="150.62" y="466.02" width="2.4" height="2.4"/><rect x="153.15" y="465.95" width="2.4" height="2.4"/><rect x="155.68" y="465.89" width="2.4" height="2.4"/><rect x="158.21" y="465.82" width="2.4" height="2.4"/><rect x="160.74" y="465.75" width="2.4" height="2.4"/><rect x="163.27" y="465.69" width="2.4" height="2.4"/><rect x="165.80" y="465.62" width="2.4" height="2.4"/><rect x="168.33" y="465.56" width="2.4" height="2.4"/><rect x="170.86" y="465.50" width="2.4" height="2.4"/><rect x="173.39" y="465.44" width="2.4" height="2.4"/><rect x="175.92" y="465.37" width="2.4" height="2.4"/><rect x="178.45" y="465.31" width="2.4" height="2.4"/><rect x="180.98" y="465.25" width="2.4" height="2.4"/><rect x="183.51" y="465.18" width="2.4" height="2.4"/><rect x="186.04" y="465.12" width="2.4" height="2.4"/><rect x="188.57" y="465.06" width="2.4" height="2.4"/><rect x="191.10" y="464.99" width="2.4" height="2.4"/><rect x="193.63" y="464.93" width="2.4" height="2.4"/><rect x="196.16" y="464.87" width="2.4" height="2.4"/><rect x="198.69" y="464.80" width="2.4" height="2.4"/><rect x="201.22" y="464.74" width="2.4" height="2.4"/><rect x="203.75" y="464.68" width="2.4" height="2.4"/><rect x="206.28" y="464.61" width="2.4" height="2.4"/><rect x="208.81" y="464.55" width="2.4" height="2.4"/><rect x="211.34" y="464.49" width="2.4" height="2.4"/><rect x="213.87" y="464.42" width="2.4" height="2.4"/><rect x="216.40" y="464.36" width="2.4" height="2.4"/><rect x="218.93" y="464.30" width="2.4" height="2.4"/><rect x="221.46" y="464.23" width="2.4" height="2.4"/><rect x="223.99" y="464.17" width="2.4" height="2.4"/><rect x="226.52" y="464.11" width="2.4" height="2.4"/><rect x="229.05" y="464.04" width="2.4" height="2.4"/><rect x="231.58" y="463.98" width="2.4" height="2.4"/><rect x="234.11" y="463.92" width="2.4" height="2.4"/><rect x="236.64" y="463.85" width="2.4" height="2.4"/><rect x="239.17" y="463.80" width="2.4" height="2.4"/><rect x="241.70" y="463.80" width="2.4" height="2.4"/><rect x="244.23" y="463.80" width="2.4" height="2.4"/><rect x="246.76" y="463.80" width="2.4" height="2.4"/><rect x="249.29" y="463.80" width="2.4" height="2.4"/><rect x="251.82" y="463.80" width="2.4" height="2.4"/><rect x="254.35" y="463.73" width="2.4" height="2.4"/><rect x="256.88" y="463.39" width="2.4" height="2.4"/><rect x="259.41" y="463.05" width="2.4" height="2.4"/><rect x="261.94" y="462.71" width="2.4" height="2.4"/><rect x="264.47" y="462.38" width="2.4" height="2.4"/><rect x="267.00" y="462.04" width="2.4" height="2.4"/><rect x="269.53" y="461.64" width="2.4" height="2.4"/><rect x="272.06" y="461.10" width="2.4" height="2.4"/><rect x="274.59" y="460.56" width="2.4" height="2.4"/><rect x="277.12" y="460.01" width="2.4" height="2.4"/><rect x="279.65" y="459.47" width="2.4" height="2.4"/><rect x="282.18" y="458.92" width="2.4" height="2.4"/><rect x="284.71" y="458.38" width="2.4" height="2.4"/><rect x="287.24" y="457.84" width="2.4" height="2.4"/><rect x="289.77" y="457.24" width="2.4" height="2.4"/><rect x="292.30" y="456.56" width="2.4" height="2.4"/><rect x="294.83" y="455.87" width="2.4" height="2.4"/><rect x="297.36" y="455.19" width="2.4" height="2.4"/><rect x="299.89" y="454.45" width="2.4" height="2.4"/><rect x="302.42" y="453.65" width="2.4" height="2.4"/><rect x="304.95" y="452.85" width="2.4" height="2.4"/><rect x="307.48" y="452.05" width="2.4" height="2.4"/><rect x="310.01" y="451.24" width="2.4" height="2.4"/><rect x="312.54" y="450.44" width="2.4" height="2.4"/><rect x="315.07" y="449.64" width="2.4" height="2.4"/><rect x="317.60" y="448.76" width="2.4" height="2.4"/><rect x="320.13" y="447.86" width="2.4" height="2.4"/><rect x="322.66" y="446.97" width="2.4" height="2.4"/><rect x="325.19" y="446.08" width="2.4" height="2.4"/><rect x="327.72" y="445.18" width="2.4" height="2.4"/><rect x="330.25" y="444.22" width="2.4" height="2.4"/><rect x="332.78" y="443.21" width="2.4" height="2.4"/><rect x="335.31" y="442.20" width="2.4" height="2.4"/><rect x="337.84" y="441.18" width="2.4" height="2.4"/><rect x="340.37" y="440.20" width="2.4" height="2.4"/><rect x="342.90" y="439.24" width="2.4" height="2.4"/><rect x="345.43" y="438.29" width="2.4" height="2.4"/><rect x="347.96" y="437.73" width="2.4" height="2.4"/><rect x="350.49" y="438.99" width="2.4" height="2.4"/><rect x="353.02" y="440.26" width="2.4" height="2.4"/><rect x="355.55" y="441.49" width="2.4" height="2.4"/><rect x="358.08" y="440.98" width="2.4" height="2.4"/><rect x="360.61" y="440.46" width="2.4" height="2.4"/><rect x="363.14" y="439.95" width="2.4" height="2.4"/><rect x="365.67" y="439.44" width="2.4" height="2.4"/><rect x="368.20" y="438.92" width="2.4" height="2.4"/><rect x="370.73" y="438.41" width="2.4" height="2.4"/><rect x="373.26" y="437.89" width="2.4" height="2.4"/><rect x="375.79" y="437.38" width="2.4" height="2.4"/><rect x="378.32" y="436.87" width="2.4" height="2.4"/><rect x="380.85" y="436.35" width="2.4" height="2.4"/><rect x="383.38" y="435.85" width="2.4" height="2.4"/><rect x="385.91" y="435.35" width="2.4" height="2.4"/><rect x="388.44" y="434.85" width="2.4" height="2.4"/><rect x="390.97" y="434.35" width="2.4" height="2.4"/><rect x="393.50" y="433.85" width="2.4" height="2.4"/><rect x="396.03" y="433.35" width="2.4" height="2.4"/><rect x="398.56" y="432.85" width="2.4" height="2.4"/><rect x="401.09" y="432.10" width="2.4" height="2.4"/><rect x="403.62" y="431.32" width="2.4" height="2.4"/><rect x="406.15" y="430.54" width="2.4" height="2.4"/><rect x="408.68" y="429.76" width="2.4" height="2.4"/><rect x="411.21" y="428.99" width="2.4" height="2.4"/><rect x="413.74" y="428.21" width="2.4" height="2.4"/><rect x="416.27" y="429.71" width="2.4" height="2.4"/><rect x="418.80" y="431.58" width="2.4" height="2.4"/><rect x="421.33" y="431.27" width="2.4" height="2.4"/><rect x="423.86" y="430.13" width="2.4" height="2.4"/><rect x="426.39" y="428.99" width="2.4" height="2.4"/><rect x="428.92" y="428.31" width="2.4" height="2.4"/><rect x="431.45" y="427.73" width="2.4" height="2.4"/><rect x="433.98" y="427.15" width="2.4" height="2.4"/></g>
<polyline points="141.7,457.5 150.0,456.0 160.0,454.5 168.3,453.3 173.0,454.0 178.3,456.7 184.0,458.0 190.0,460.0 194.0,458.0 198.3,456.7 201.7,458.3 206.0,455.0 210.0,453.3 216.7,451.7 221.0,453.0 225.0,455.8 230.0,452.0 236.7,446.7 240.0,443.5 245.0,440.8 250.0,440.0 255.0,439.2 257.0,448.0 259.0,456.0 261.0,461.0 266.0,456.0 272.0,450.0 280.0,443.5 290.0,434.7 300.0,426.7 310.0,418.0 320.0,411.0 330.0,404.0 340.0,397.0 350.0,392.0 360.0,385.0 370.0,380.0 380.0,376.5 390.0,369.0 400.0,363.3 410.0,358.7 414.0,356.5 418.0,360.0 421.0,353.3 428.0,350.0 436.7,345.3" fill="none" stroke="#f0b000" stroke-width="0.9" stroke-linejoin="round"/><g fill="#f8bc00" stroke="#2a2a2a" stroke-width="0.35"><rect x="140.40" y="456.20" width="2.6" height="2.6"/><rect x="142.93" y="455.74" width="2.6" height="2.6"/><rect x="145.46" y="455.29" width="2.6" height="2.6"/><rect x="147.99" y="454.83" width="2.6" height="2.6"/><rect x="150.52" y="454.43" width="2.6" height="2.6"/><rect x="153.05" y="454.05" width="2.6" height="2.6"/><rect x="155.58" y="453.67" width="2.6" height="2.6"/><rect x="158.11" y="453.29" width="2.6" height="2.6"/><rect x="160.64" y="452.92" width="2.6" height="2.6"/><rect x="163.17" y="452.55" width="2.6" height="2.6"/><rect x="165.70" y="452.19" width="2.6" height="2.6"/><rect x="168.23" y="452.18" width="2.6" height="2.6"/><rect x="170.76" y="452.56" width="2.6" height="2.6"/><rect x="173.29" y="453.51" width="2.6" height="2.6"/><rect x="175.82" y="454.80" width="2.6" height="2.6"/><rect x="178.35" y="455.71" width="2.6" height="2.6"/><rect x="180.88" y="456.28" width="2.6" height="2.6"/><rect x="183.41" y="456.94" width="2.6" height="2.6"/><rect x="185.94" y="457.78" width="2.6" height="2.6"/><rect x="188.47" y="458.62" width="2.6" height="2.6"/><rect x="191.00" y="457.55" width="2.6" height="2.6"/><rect x="193.53" y="456.45" width="2.6" height="2.6"/><rect x="196.06" y="455.68" width="2.6" height="2.6"/><rect x="198.59" y="456.15" width="2.6" height="2.6"/><rect x="201.12" y="456.45" width="2.6" height="2.6"/><rect x="203.65" y="454.51" width="2.6" height="2.6"/><rect x="206.18" y="453.07" width="2.6" height="2.6"/><rect x="208.71" y="452.00" width="2.6" height="2.6"/><rect x="211.24" y="451.39" width="2.6" height="2.6"/><rect x="213.77" y="450.79" width="2.6" height="2.6"/><rect x="216.30" y="450.67" width="2.6" height="2.6"/><rect x="218.83" y="451.44" width="2.6" height="2.6"/><rect x="221.36" y="452.86" width="2.6" height="2.6"/><rect x="223.89" y="454.36" width="2.6" height="2.6"/><rect x="226.42" y="452.43" width="2.6" height="2.6"/><rect x="228.95" y="450.50" width="2.6" height="2.6"/><rect x="231.48" y="448.50" width="2.6" height="2.6"/><rect x="234.01" y="446.50" width="2.6" height="2.6"/><rect x="236.54" y="444.29" width="2.6" height="2.6"/><rect x="239.07" y="442.00" width="2.6" height="2.6"/><rect x="241.60" y="440.63" width="2.6" height="2.6"/><rect x="244.13" y="439.43" width="2.6" height="2.6"/><rect x="246.66" y="439.03" width="2.6" height="2.6"/><rect x="249.19" y="438.62" width="2.6" height="2.6"/><rect x="251.72" y="438.22" width="2.6" height="2.6"/><rect x="259.31" y="458.73" width="2.6" height="2.6"/><rect x="261.84" y="457.56" width="2.6" height="2.6"/><rect x="264.37" y="455.03" width="2.6" height="2.6"/><rect x="266.90" y="452.50" width="2.6" height="2.6"/><rect x="269.43" y="449.97" width="2.6" height="2.6"/><rect x="271.96" y="447.68" width="2.6" height="2.6"/><rect x="274.49" y="445.62" width="2.6" height="2.6"/><rect x="277.02" y="443.57" width="2.6" height="2.6"/><rect x="279.55" y="441.45" width="2.6" height="2.6"/><rect x="282.08" y="439.23" width="2.6" height="2.6"/><rect x="284.61" y="437.00" width="2.6" height="2.6"/><rect x="287.14" y="434.77" width="2.6" height="2.6"/><rect x="289.67" y="432.62" width="2.6" height="2.6"/><rect x="292.20" y="430.60" width="2.6" height="2.6"/><rect x="294.73" y="428.58" width="2.6" height="2.6"/><rect x="297.26" y="426.55" width="2.6" height="2.6"/><rect x="299.79" y="424.45" width="2.6" height="2.6"/><rect x="302.32" y="422.25" width="2.6" height="2.6"/><rect x="304.85" y="420.05" width="2.6" height="2.6"/><rect x="307.38" y="417.85" width="2.6" height="2.6"/><rect x="309.91" y="415.85" width="2.6" height="2.6"/><rect x="312.44" y="414.08" width="2.6" height="2.6"/><rect x="314.97" y="412.31" width="2.6" height="2.6"/><rect x="317.50" y="410.54" width="2.6" height="2.6"/><rect x="320.03" y="408.77" width="2.6" height="2.6"/><rect x="322.56" y="407.00" width="2.6" height="2.6"/><rect x="325.09" y="405.23" width="2.6" height="2.6"/><rect x="327.62" y="403.46" width="2.6" height="2.6"/><rect x="330.15" y="401.69" width="2.6" height="2.6"/><rect x="332.68" y="399.91" width="2.6" height="2.6"/><rect x="335.21" y="398.14" width="2.6" height="2.6"/><rect x="337.74" y="396.37" width="2.6" height="2.6"/><rect x="340.27" y="394.92" width="2.6" height="2.6"/><rect x="342.80" y="393.65" width="2.6" height="2.6"/><rect x="345.33" y="392.39" width="2.6" height="2.6"/><rect x="347.86" y="391.12" width="2.6" height="2.6"/><rect x="350.39" y="389.52" width="2.6" height="2.6"/><rect x="352.92" y="387.75" width="2.6" height="2.6"/><rect x="355.45" y="385.98" width="2.6" height="2.6"/><rect x="357.98" y="384.20" width="2.6" height="2.6"/><rect x="360.51" y="382.80" width="2.6" height="2.6"/><rect x="363.04" y="381.53" width="2.6" height="2.6"/><rect x="365.57" y="380.27" width="2.6" height="2.6"/><rect x="368.10" y="379.00" width="2.6" height="2.6"/><rect x="370.63" y="378.02" width="2.6" height="2.6"/><rect x="373.16" y="377.14" width="2.6" height="2.6"/><rect x="375.69" y="376.25" width="2.6" height="2.6"/><rect x="378.22" y="375.37" width="2.6" height="2.6"/><rect x="380.75" y="373.66" width="2.6" height="2.6"/><rect x="383.28" y="371.77" width="2.6" height="2.6"/><rect x="385.81" y="369.87" width="2.6" height="2.6"/><rect x="388.34" y="367.97" width="2.6" height="2.6"/><rect x="390.87" y="366.46" width="2.6" height="2.6"/><rect x="393.40" y="365.02" width="2.6" height="2.6"/><rect x="395.93" y="363.58" width="2.6" height="2.6"/><rect x="398.46" y="362.14" width="2.6" height="2.6"/><rect x="400.99" y="360.95" width="2.6" height="2.6"/><rect x="403.52" y="359.78" width="2.6" height="2.6"/><rect x="406.05" y="358.62" width="2.6" height="2.6"/><rect x="408.58" y="357.46" width="2.6" height="2.6"/><rect x="411.11" y="356.07" width="2.6" height="2.6"/><rect x="413.64" y="356.02" width="2.6" height="2.6"/><rect x="416.17" y="358.24" width="2.6" height="2.6"/><rect x="418.70" y="354.23" width="2.6" height="2.6"/><rect x="421.23" y="351.28" width="2.6" height="2.6"/><rect x="423.76" y="350.09" width="2.6" height="2.6"/><rect x="426.29" y="348.89" width="2.6" height="2.6"/><rect x="428.82" y="347.55" width="2.6" height="2.6"/><rect x="431.35" y="346.19" width="2.6" height="2.6"/><rect x="433.88" y="344.82" width="2.6" height="2.6"/></g>
<polyline points="141.7,456.5 150.0,455.0 160.0,453.7 170.0,453.0 176.7,452.5 185.0,451.0 193.0,449.5 201.7,447.0 210.0,445.5 216.7,444.2 221.7,448.3 225.0,453.3 230.0,447.0 236.7,441.7 245.0,435.0 250.0,430.0 253.3,426.7 257.0,430.0 260.0,433.3 266.7,434.2 272.0,431.0 278.3,426.7 287.0,422.0 295.0,420.0 303.0,415.0 310.0,410.5 320.0,404.0 330.0,398.0 340.0,390.0 350.0,386.0 360.0,376.0 370.0,369.0 380.0,363.0 383.3,358.3 393.3,346.7 400.0,340.0 406.0,333.0 412.7,326.7 415.0,329.0 418.0,334.7 425.0,329.0 430.0,325.0 436.7,320.0" fill="none" stroke="#2a2a2a" stroke-width="0.6" stroke-linejoin="round"/><g fill="#ffffff" stroke="#2a2a2a" stroke-width="0.5"><rect x="140.55" y="455.35" width="2.3" height="2.3"/><rect x="143.08" y="454.89" width="2.3" height="2.3"/><rect x="145.61" y="454.44" width="2.3" height="2.3"/><rect x="148.14" y="453.98" width="2.3" height="2.3"/><rect x="150.67" y="453.61" width="2.3" height="2.3"/><rect x="153.20" y="453.28" width="2.3" height="2.3"/><rect x="155.73" y="452.96" width="2.3" height="2.3"/><rect x="158.26" y="452.63" width="2.3" height="2.3"/><rect x="160.79" y="452.41" width="2.3" height="2.3"/><rect x="163.32" y="452.24" width="2.3" height="2.3"/><rect x="165.85" y="452.06" width="2.3" height="2.3"/><rect x="168.38" y="451.88" width="2.3" height="2.3"/><rect x="170.91" y="451.70" width="2.3" height="2.3"/><rect x="173.44" y="451.51" width="2.3" height="2.3"/><rect x="175.97" y="451.27" width="2.3" height="2.3"/><rect x="178.50" y="450.82" width="2.3" height="2.3"/><rect x="181.03" y="450.36" width="2.3" height="2.3"/><rect x="183.56" y="449.90" width="2.3" height="2.3"/><rect x="186.09" y="449.43" width="2.3" height="2.3"/><rect x="188.62" y="448.96" width="2.3" height="2.3"/><rect x="191.15" y="448.48" width="2.3" height="2.3"/><rect x="193.68" y="447.82" width="2.3" height="2.3"/><rect x="196.21" y="447.10" width="2.3" height="2.3"/><rect x="198.74" y="446.37" width="2.3" height="2.3"/><rect x="201.27" y="445.72" width="2.3" height="2.3"/><rect x="203.80" y="445.26" width="2.3" height="2.3"/><rect x="206.33" y="444.81" width="2.3" height="2.3"/><rect x="208.86" y="444.35" width="2.3" height="2.3"/><rect x="211.39" y="443.86" width="2.3" height="2.3"/><rect x="213.92" y="443.37" width="2.3" height="2.3"/><rect x="216.45" y="443.79" width="2.3" height="2.3"/><rect x="218.98" y="445.86" width="2.3" height="2.3"/><rect x="221.51" y="448.60" width="2.3" height="2.3"/><rect x="224.04" y="451.91" width="2.3" height="2.3"/><rect x="226.57" y="448.72" width="2.3" height="2.3"/><rect x="229.10" y="445.65" width="2.3" height="2.3"/><rect x="231.63" y="443.65" width="2.3" height="2.3"/><rect x="234.16" y="441.65" width="2.3" height="2.3"/><rect x="236.69" y="439.63" width="2.3" height="2.3"/><rect x="239.22" y="437.59" width="2.3" height="2.3"/><rect x="241.75" y="435.55" width="2.3" height="2.3"/><rect x="244.28" y="433.42" width="2.3" height="2.3"/><rect x="246.81" y="430.89" width="2.3" height="2.3"/><rect x="249.34" y="428.36" width="2.3" height="2.3"/><rect x="251.87" y="425.83" width="2.3" height="2.3"/><rect x="254.40" y="427.56" width="2.3" height="2.3"/><rect x="256.93" y="430.04" width="2.3" height="2.3"/><rect x="259.46" y="432.23" width="2.3" height="2.3"/><rect x="261.99" y="432.57" width="2.3" height="2.3"/><rect x="264.52" y="432.91" width="2.3" height="2.3"/><rect x="267.05" y="432.14" width="2.3" height="2.3"/><rect x="269.58" y="430.62" width="2.3" height="2.3"/><rect x="272.11" y="428.99" width="2.3" height="2.3"/><rect x="274.64" y="427.26" width="2.3" height="2.3"/><rect x="277.17" y="425.54" width="2.3" height="2.3"/><rect x="279.70" y="424.17" width="2.3" height="2.3"/><rect x="282.23" y="422.81" width="2.3" height="2.3"/><rect x="284.76" y="421.44" width="2.3" height="2.3"/><rect x="287.29" y="420.49" width="2.3" height="2.3"/><rect x="289.82" y="419.86" width="2.3" height="2.3"/><rect x="292.35" y="419.23" width="2.3" height="2.3"/><rect x="294.88" y="418.21" width="2.3" height="2.3"/><rect x="297.41" y="416.63" width="2.3" height="2.3"/><rect x="299.94" y="415.04" width="2.3" height="2.3"/><rect x="302.47" y="413.45" width="2.3" height="2.3"/><rect x="305.00" y="411.83" width="2.3" height="2.3"/><rect x="307.53" y="410.20" width="2.3" height="2.3"/><rect x="310.06" y="408.56" width="2.3" height="2.3"/><rect x="312.59" y="406.92" width="2.3" height="2.3"/><rect x="315.12" y="405.27" width="2.3" height="2.3"/><rect x="317.65" y="403.63" width="2.3" height="2.3"/><rect x="320.18" y="402.05" width="2.3" height="2.3"/><rect x="322.71" y="400.53" width="2.3" height="2.3"/><rect x="325.24" y="399.02" width="2.3" height="2.3"/><rect x="327.77" y="397.50" width="2.3" height="2.3"/><rect x="330.30" y="395.69" width="2.3" height="2.3"/><rect x="332.83" y="393.67" width="2.3" height="2.3"/><rect x="335.36" y="391.64" width="2.3" height="2.3"/><rect x="337.89" y="389.62" width="2.3" height="2.3"/><rect x="340.42" y="388.22" width="2.3" height="2.3"/><rect x="342.95" y="387.21" width="2.3" height="2.3"/><rect x="345.48" y="386.20" width="2.3" height="2.3"/><rect x="348.01" y="385.19" width="2.3" height="2.3"/><rect x="350.54" y="383.16" width="2.3" height="2.3"/><rect x="353.07" y="380.63" width="2.3" height="2.3"/><rect x="355.60" y="378.10" width="2.3" height="2.3"/><rect x="358.13" y="375.57" width="2.3" height="2.3"/><rect x="360.66" y="373.58" width="2.3" height="2.3"/><rect x="363.19" y="371.81" width="2.3" height="2.3"/><rect x="365.72" y="370.04" width="2.3" height="2.3"/><rect x="368.25" y="368.27" width="2.3" height="2.3"/><rect x="370.78" y="366.69" width="2.3" height="2.3"/><rect x="373.31" y="365.17" width="2.3" height="2.3"/><rect x="375.84" y="363.66" width="2.3" height="2.3"/><rect x="378.37" y="362.14" width="2.3" height="2.3"/><rect x="380.90" y="358.93" width="2.3" height="2.3"/><rect x="383.43" y="355.67" width="2.3" height="2.3"/><rect x="385.96" y="352.73" width="2.3" height="2.3"/><rect x="388.49" y="349.80" width="2.3" height="2.3"/><rect x="391.02" y="346.86" width="2.3" height="2.3"/><rect x="393.55" y="344.15" width="2.3" height="2.3"/><rect x="396.08" y="341.62" width="2.3" height="2.3"/><rect x="398.61" y="339.09" width="2.3" height="2.3"/><rect x="401.14" y="336.18" width="2.3" height="2.3"/><rect x="403.67" y="333.23" width="2.3" height="2.3"/><rect x="406.20" y="330.58" width="2.3" height="2.3"/><rect x="408.73" y="328.20" width="2.3" height="2.3"/><rect x="411.26" y="325.82" width="2.3" height="2.3"/><rect x="413.79" y="327.79" width="2.3" height="2.3"/><rect x="416.32" y="332.54" width="2.3" height="2.3"/><rect x="418.85" y="331.92" width="2.3" height="2.3"/><rect x="421.38" y="329.86" width="2.3" height="2.3"/><rect x="423.91" y="327.80" width="2.3" height="2.3"/><rect x="426.44" y="325.78" width="2.3" height="2.3"/><rect x="428.97" y="323.76" width="2.3" height="2.3"/><rect x="431.50" y="321.87" width="2.3" height="2.3"/><rect x="434.03" y="319.98" width="2.3" height="2.3"/></g>
<polyline points="268.0,472.5 290.0,472.0 343.3,469.3 383.3,464.0 404.7,457.3 423.3,445.3 436.7,437.3" fill="none" stroke="#8a0000" stroke-width="0.7" stroke-linejoin="round"/><g fill="#c81010" stroke="#8a0000" stroke-width="0.55"><rect x="266.80" y="471.30" width="2.4" height="2.4"/><rect x="269.33" y="471.24" width="2.4" height="2.4"/><rect x="271.86" y="471.19" width="2.4" height="2.4"/><rect x="274.39" y="471.13" width="2.4" height="2.4"/><rect x="276.92" y="471.07" width="2.4" height="2.4"/><rect x="279.45" y="471.01" width="2.4" height="2.4"/><rect x="281.98" y="470.96" width="2.4" height="2.4"/><rect x="284.51" y="470.90" width="2.4" height="2.4"/><rect x="287.04" y="470.84" width="2.4" height="2.4"/><rect x="289.57" y="470.76" width="2.4" height="2.4"/><rect x="292.10" y="470.63" width="2.4" height="2.4"/><rect x="294.63" y="470.50" width="2.4" height="2.4"/><rect x="297.16" y="470.38" width="2.4" height="2.4"/><rect x="299.69" y="470.25" width="2.4" height="2.4"/><rect x="302.22" y="470.12" width="2.4" height="2.4"/><rect x="304.75" y="469.99" width="2.4" height="2.4"/><rect x="307.28" y="469.86" width="2.4" height="2.4"/><rect x="309.81" y="469.74" width="2.4" height="2.4"/><rect x="312.34" y="469.61" width="2.4" height="2.4"/><rect x="314.87" y="469.48" width="2.4" height="2.4"/><rect x="317.40" y="469.35" width="2.4" height="2.4"/><rect x="319.93" y="469.22" width="2.4" height="2.4"/><rect x="322.46" y="469.09" width="2.4" height="2.4"/><rect x="324.99" y="468.97" width="2.4" height="2.4"/><rect x="327.52" y="468.84" width="2.4" height="2.4"/><rect x="330.05" y="468.71" width="2.4" height="2.4"/><rect x="332.58" y="468.58" width="2.4" height="2.4"/><rect x="335.11" y="468.45" width="2.4" height="2.4"/><rect x="337.64" y="468.33" width="2.4" height="2.4"/><rect x="340.17" y="468.20" width="2.4" height="2.4"/><rect x="342.70" y="468.02" width="2.4" height="2.4"/><rect x="345.23" y="467.69" width="2.4" height="2.4"/><rect x="347.76" y="467.35" width="2.4" height="2.4"/><rect x="350.29" y="467.01" width="2.4" height="2.4"/><rect x="352.82" y="466.68" width="2.4" height="2.4"/><rect x="355.35" y="466.34" width="2.4" height="2.4"/><rect x="357.88" y="466.01" width="2.4" height="2.4"/><rect x="360.41" y="465.67" width="2.4" height="2.4"/><rect x="362.94" y="465.34" width="2.4" height="2.4"/><rect x="365.47" y="465.00" width="2.4" height="2.4"/><rect x="368.00" y="464.67" width="2.4" height="2.4"/><rect x="370.53" y="464.33" width="2.4" height="2.4"/><rect x="373.06" y="464.00" width="2.4" height="2.4"/><rect x="375.59" y="463.66" width="2.4" height="2.4"/><rect x="378.12" y="463.33" width="2.4" height="2.4"/><rect x="380.65" y="462.99" width="2.4" height="2.4"/><rect x="383.18" y="462.46" width="2.4" height="2.4"/><rect x="385.71" y="461.67" width="2.4" height="2.4"/><rect x="388.24" y="460.88" width="2.4" height="2.4"/><rect x="390.77" y="460.09" width="2.4" height="2.4"/><rect x="393.30" y="459.29" width="2.4" height="2.4"/><rect x="395.83" y="458.50" width="2.4" height="2.4"/><rect x="398.36" y="457.71" width="2.4" height="2.4"/><rect x="400.89" y="456.92" width="2.4" height="2.4"/><rect x="403.42" y="456.13" width="2.4" height="2.4"/><rect x="405.95" y="454.52" width="2.4" height="2.4"/><rect x="408.48" y="452.89" width="2.4" height="2.4"/><rect x="411.01" y="451.25" width="2.4" height="2.4"/><rect x="413.54" y="449.62" width="2.4" height="2.4"/><rect x="416.07" y="447.99" width="2.4" height="2.4"/><rect x="418.60" y="446.36" width="2.4" height="2.4"/><rect x="421.13" y="444.73" width="2.4" height="2.4"/><rect x="423.66" y="443.17" width="2.4" height="2.4"/><rect x="426.19" y="441.66" width="2.4" height="2.4"/><rect x="428.72" y="440.15" width="2.4" height="2.4"/><rect x="431.25" y="438.64" width="2.4" height="2.4"/><rect x="433.78" y="437.13" width="2.4" height="2.4"/></g>
<polyline points="215.0,472.5 240.0,472.5" fill="none" stroke="#8a0000" stroke-width="0.7" stroke-linejoin="round"/><g fill="#c81010" stroke="#8a0000" stroke-width="0.55"><rect x="213.80" y="471.30" width="2.4" height="2.4"/><rect x="216.33" y="471.30" width="2.4" height="2.4"/><rect x="218.86" y="471.30" width="2.4" height="2.4"/><rect x="221.39" y="471.30" width="2.4" height="2.4"/><rect x="223.92" y="471.30" width="2.4" height="2.4"/><rect x="226.45" y="471.30" width="2.4" height="2.4"/><rect x="228.98" y="471.30" width="2.4" height="2.4"/><rect x="231.51" y="471.30" width="2.4" height="2.4"/><rect x="234.04" y="471.30" width="2.4" height="2.4"/><rect x="236.57" y="471.30" width="2.4" height="2.4"/></g>
<circle cx="142.5" cy="473" r="1.6" fill="#a00000"/>
<circle cx="170.8" cy="473" r="1.6" fill="#a00000"/>
<circle cx="175.8" cy="473" r="1.6" fill="#a00000"/>
<g><rect x="440" y="318" width="20" height="12" fill="#fff"/>
<rect x="440" y="318.00" width="20" height="0.92" fill="#c8404a"/>
<rect x="440" y="319.85" width="20" height="0.92" fill="#c8404a"/>
<rect x="440" y="321.69" width="20" height="0.92" fill="#c8404a"/>
<rect x="440" y="323.54" width="20" height="0.92" fill="#c8404a"/>
<rect x="440" y="325.38" width="20" height="0.92" fill="#c8404a"/>
<rect x="440" y="327.23" width="20" height="0.92" fill="#c8404a"/>
<rect x="440" y="329.08" width="20" height="0.92" fill="#c8404a"/>
<rect x="440" y="318" width="8" height="6.5" fill="#2c3e78"/></g>
<rect x="440" y="340" width="20" height="4.1" fill="#000"/><rect x="440" y="344.1" width="20" height="4.1" fill="#dd0000"/><rect x="440" y="348.2" width="20" height="4.1" fill="#ffce00"/>
<rect x="440.4" y="356.6" width="19.2" height="13.7" fill="#fff" stroke="#555" stroke-width="0.8"/><circle cx="450" cy="363.5" r="3.9" fill="#c8102e"/>
<rect x="440" y="377.7" width="20" height="12.6" fill="#c60b1e"/><rect x="440" y="380.8" width="20" height="6.3" fill="#ffc400"/><rect x="445" y="381.8" width="2.4" height="3.4" fill="#b5651d"/>
<rect x="440" y="400.7" width="20" height="14.3" fill="#fff"/>
<rect x="440" y="400.70" width="20" height="1.59" fill="#0d5eaf"/>
<rect x="440" y="403.88" width="20" height="1.59" fill="#0d5eaf"/>
<rect x="440" y="407.06" width="20" height="1.59" fill="#0d5eaf"/>
<rect x="440" y="410.23" width="20" height="1.59" fill="#0d5eaf"/>
<rect x="440" y="413.41" width="20" height="1.59" fill="#0d5eaf"/>
<rect x="440" y="400.7" width="8" height="7.9" fill="#0d5eaf"/><rect x="443.2" y="400.7" width="1.6" height="7.9" fill="#fff"/><rect x="440" y="403.9" width="8" height="1.6" fill="#fff"/>
<rect x="440" y="421" width="6.7" height="10.6" fill="#006847"/><rect x="446.7" y="421" width="6.6" height="10.6" fill="#fff"/><rect x="453.3" y="421" width="6.7" height="10.6" fill="#ce1126"/><circle cx="450" cy="426" r="1.6" fill="#8a6a3a"/>
<rect x="440" y="433" width="20" height="12.7" fill="#de2910"/><circle cx="443.5" cy="436" r="1.3" fill="#ffde00"/><circle cx="446.6" cy="434.6" r="0.5" fill="#ffde00"/><circle cx="447.6" cy="436" r="0.5" fill="#ffde00"/><circle cx="447.6" cy="437.6" r="0.5" fill="#ffde00"/><circle cx="446.6" cy="438.8" r="0.5" fill="#ffde00"/>
<rect x="440" y="450" width="20" height="13" fill="#dc241f"/><polygon points="440,450 453,450 440,463" fill="#009543"/><polygon points="453,450 460,450 447,463 440,463" fill="#fbde4a"/>
<circle cx="482.2" cy="357.5" r="5.4" fill="#1d5fa8"/><circle cx="481" cy="356" r="2.6" fill="#5a9ad8" opacity="0.6"/><path d="M478.5,356 q2,-2 4,0 q1.5,1.5 3,0" stroke="#cfe3f5" stroke-width="0.6" fill="none"/>
<path d="M488.6,352.8 q2.3,2.3 0.2,4.6 M491.4,352.8 q2.3,2.3 0.2,4.6" stroke="#86c54a" stroke-width="1.5" fill="none"/><path d="M488.8,357.4 q1.6,2.1 -0.4,4.2 M491.6,357.4 q1.6,2.1 -0.4,4.2" stroke="#4a4a4a" stroke-width="1.5" fill="none"/>
<text x="485.2" y="368.4" text-anchor="middle" font-family="Liberation Sans" font-size="6.6" letter-spacing="-0.2" fill="#666" stroke="#666" stroke-width="0.2">OCDE</text>
<defs><radialGradient id="gg" cx="0.4" cy="0.4" r="0.65"><stop offset="0" stop-color="#ffffff"/><stop offset="0.7" stop-color="#f2f2f2"/><stop offset="1" stop-color="#c8c8c8"/></radialGradient></defs>
<circle cx="475" cy="430.8" r="9.9" fill="url(#gg)"/>
<path d="M469.5,423.5 L472,421.5 L477,421 L478,423.5 L474.5,424.5 L472,426 Z" fill="#b8b8b8"/>
<path d="M469.5,424.6 L470.6,424 L472.6,425.8 L474.2,427.3 L476.5,427.9 L479,429 L480.8,430.4 L481.4,432 L480.2,434 L478.2,435.8 L476.6,437.8 L475.8,439.2 L475.2,438 L475.4,435.5 L474.6,433 L473.6,430.6 L473.2,428.8 L471.6,427.2 L469.9,425.7 Z" fill="#2e6b2e"/>
<path d="M471.8,447.8 L472.1,445.9 L474.7,444.3 L477.5,443.5 L480.4,443.3 L481.5,444.6 L483.5,445.9 L486,445.4 L488.6,445.2 L489.9,447.1 L491.8,450.9 L494.3,452.2 L493,454.1 L491.8,456 L491.1,459.2 L489.9,462.3 L487.3,466.1 L486.1,467.1 L484.2,467.1 L482.9,464.9 L481.6,461.7 L481.3,458.5 L481,455.4 L479.7,453.5 L477.2,453.1 L474.7,452.8 L472.8,451.6 L471.8,449.7 Z" fill="#000"/>
<ellipse cx="493.2" cy="462.3" rx="0.8" ry="2" transform="rotate(25 493.2 462.3)" fill="#000"/>
</svg>
</body></html>
